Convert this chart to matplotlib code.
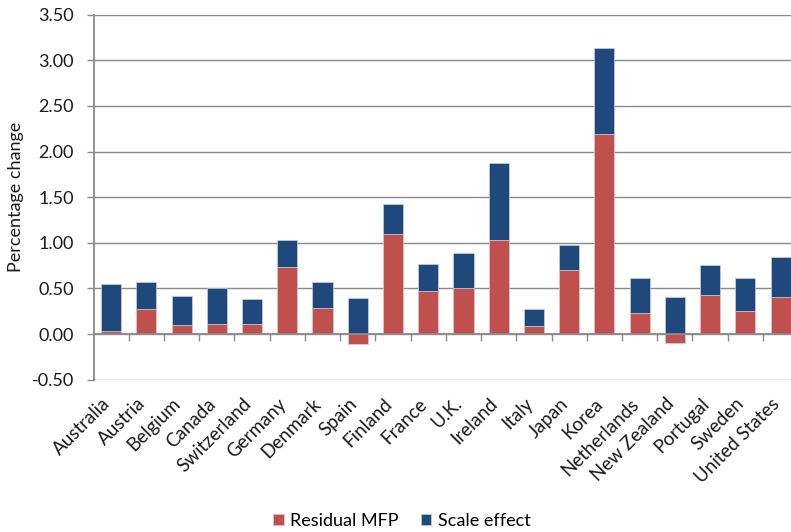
import matplotlib.pyplot as plt
import numpy as np

countries = ["Australia", "Austria", "Belgium", "Canada", "Switzerland",
             "Germany", "Denmark", "Spain", "Finland", "France", "U.K.",
             "Ireland", "Italy", "Japan", "Korea", "Netherlands",
             "New Zealand", "Portugal", "Sweden", "United States"]
residual_mfp = [0.03, 0.27, 0.10, 0.11, 0.11, 0.735, 0.29, -0.11, 1.10, 0.47,
                0.51, 1.03, 0.09, 0.70, 2.19, 0.23, -0.095, 0.43, 0.25, 0.41]
scale_effect = [0.52, 0.30, 0.32, 0.40, 0.27, 0.30, 0.28, 0.39, 0.33, 0.30,
                0.38, 0.85, 0.18, 0.28, 0.95, 0.38, 0.41, 0.33, 0.36, 0.43]
y_ticks = [-0.5, 0.0, 0.5, 1.0, 1.5, 2.0, 2.5, 3.0, 3.5]

RED = "#C0504D"
BLUE = "#1F497D"
GRID = "#8A8A8A"
TEXT = "#1A1A1A"
FS = 13

plt.rcParams["font.family"] = ["Lato", "DejaVu Sans"]

fig = plt.figure(figsize=(7.91, 5.32), dpi=100)
ax = fig.add_axes([93.5 / 791, 1 - 379.7 / 532, 704.7 / 791, 365.0 / 532])

x = np.arange(len(countries))
width = 0.57
res = np.array(residual_mfp)
scl = np.array(scale_effect)
ax.bar(x, res, width, color=RED, edgecolor="#E6C8C8", linewidth=0.5,
       label="Residual MFP", zorder=3)
ax.bar(x, scl, width, bottom=np.maximum(res, 0), color=BLUE,
       edgecolor="#C8D0E0", linewidth=0.5, label="Scale effect", zorder=3)

ax.set_xlim(-0.5, len(countries) - 0.5)
ax.set_ylim(-0.5, 3.5)
ax.set_yticks(y_ticks)
ax.set_yticklabels([f"{v:.2f}" for v in y_ticks], fontsize=FS, color=TEXT)
ax.yaxis.grid(True, color=GRID, linewidth=1.0, zorder=0)
ax.set_axisbelow(True)

for s in ["top", "right"]:
    ax.spines[s].set_visible(False)
ax.spines["left"].set_color(GRID)
ax.spines["left"].set_linewidth(1.3)
ax.spines["bottom"].set_position(("data", 0))
ax.spines["bottom"].set_color(GRID)
ax.spines["bottom"].set_linewidth(1.3)
ax.spines["bottom"].set_zorder(4)

ax.tick_params(axis="y", length=5, color=GRID, width=1.0, pad=9)
ax.set_xticks(x)
ax.set_xticks(x[:-1] + 0.5, minor=True)
ax.tick_params(axis="x", which="major", length=0, pad=51)
ax.tick_params(axis="x", which="minor", length=5, color=GRID, width=1.0)
ax.set_xticklabels(countries, rotation=45, ha="right", va="baseline",
                   rotation_mode="anchor", fontsize=13.5, color=TEXT)

ax.set_ylabel("Percentage change", fontsize=FS, color=TEXT)
ax.yaxis.set_label_coords(-0.098, 0.5)

fig.legend(loc="lower center", bbox_to_anchor=(0.508, -0.025), ncol=2,
           frameon=False, fontsize=FS, handlelength=0.6, handleheight=0.6,
           handletextpad=0.35, columnspacing=1.2)

fig.savefig("out.png", dpi=100)
